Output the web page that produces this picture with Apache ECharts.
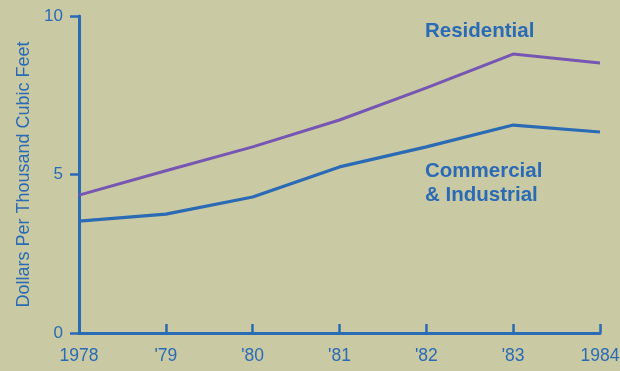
<!DOCTYPE html>
<html>
<head>
<meta charset="utf-8">
<script src="https://cdn.jsdelivr.net/npm/echarts@6/dist/echarts.min.js"></script>
<style>
html,body{margin:0;padding:0;background:#c9caa4;}
#chart{width:620px;height:371px;}
</style>
</head>
<body>
<div id="chart"></div>
<script>
var years = ['1978', "'79", "'80", "'81", "'82", "'83", '1984'];
var residential = [4.35, 5.12, 5.87, 6.72, 7.73, 8.8, 8.52];
var commercial = [3.53, 3.75, 4.29, 5.24, 5.87, 6.56, 6.34];
var yTicks = [0, 5, 10];

var blue = '#2b6ab4';
var purple = '#7656b2';
var font = '"Liberation Sans", Arial, sans-serif';

var chart = echarts.init(document.getElementById('chart'));
chart.setOption({
  backgroundColor: '#c9caa4',
  animation: false,
  grid: {left: 79, right: 20, top: 16, bottom: 38, containLabel: false, outerBoundsMode: 'none'},
  xAxis: {
    type: 'category',
    data: years,
    boundaryGap: false,
    axisLine: {lineStyle: {color: blue, width: 3}},
    axisTick: {show: true, inside: true, length: 9, alignWithLabel: true, lineStyle: {color: blue, width: 2.5}},
    axisLabel: {color: blue, fontSize: 17.5, fontFamily: font, margin: 14, showMaxLabel: true, showMinLabel: true, interval: 0,
      alignMaxLabel: 'center', alignMinLabel: 'center', hideOverlap: false},
    splitLine: {show: false}
  },
  yAxis: {
    type: 'value',
    min: 0, max: 10, interval: 5,
    name: 'Dollars Per Thousand Cubic Feet',
    nameLocation: 'middle',
    nameGap: 43,
    nameTextStyle: {color: blue, fontSize: 18, fontFamily: font},
    axisLine: {show: true, lineStyle: {color: blue, width: 3}},
    axisTick: {show: true, length: 9, lineStyle: {color: blue, width: 2.5}},
    axisLabel: {color: blue, fontSize: 17, fontFamily: font, margin: 16,
      formatter: function (v) { return yTicks.indexOf(v) >= 0 ? String(v) : ''; }},
    splitLine: {show: false}
  },
  series: [
    {name: 'Residential', type: 'line', data: residential, symbol: 'none',
     lineStyle: {color: purple, width: 3}, z: 3},
    {name: 'Commercial & Industrial', type: 'line', data: commercial, symbol: 'none',
     lineStyle: {color: blue, width: 3.2}, z: 3}
  ],
  graphic: [
    {type: 'text', left: 425, top: 21, style: {text: 'Residential', fill: blue, font: 'bold 20.5px ' + font}},
    {type: 'text', left: 425, top: 159, style: {text: 'Commercial\n& Industrial', fill: blue, font: 'bold 20.5px ' + font, lineHeight: 24}}
  ]
});
</script>
</body>
</html>
